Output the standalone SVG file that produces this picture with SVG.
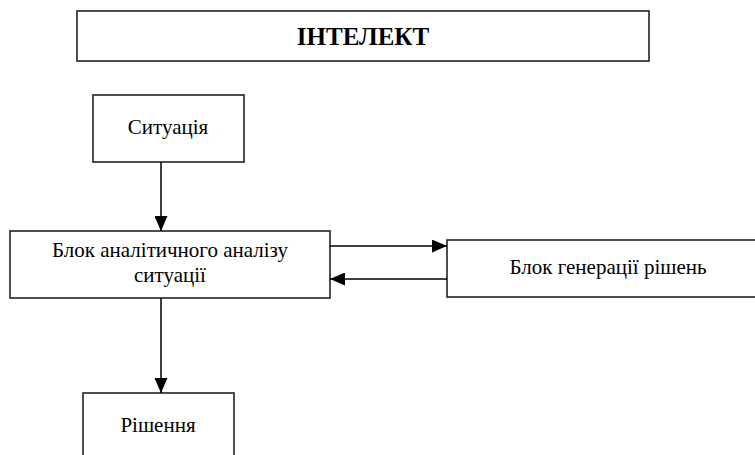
<svg xmlns="http://www.w3.org/2000/svg" width="755" height="455" viewBox="0 0 755 455">
  <style>
    .box { fill: #ffffff; stroke: #222222; stroke-width: 1.6; }
    .txt { font-family: "Liberation Serif", "Times New Roman", serif; font-size: 21px; fill: #000000; text-anchor: middle; }
    .title { font-weight: bold; font-size: 25px; }
    .conn { stroke: #000000; stroke-width: 1.5; fill: none; }
  </style>
  <defs>
    <marker id="arrow" markerWidth="15" markerHeight="13" refX="15" refY="6.5" orient="auto" markerUnits="userSpaceOnUse">
      <path d="M0,0 L15,6.5 L0,13 Z" fill="#000000"/>
    </marker>
  </defs>
  <rect x="0" y="0" width="755" height="455" fill="#ffffff"/>
  <g id="title">
    <rect class="box" x="77" y="11" width="572" height="50"/>
    <text class="txt title" x="363" y="45">ІНТЕЛЕКТ</text>
  </g>
  <g id="situation">
    <rect class="box" x="93" y="95" width="151" height="67"/>
    <text class="txt" x="168" y="134">Ситуація</text>
  </g>
  <g id="analysis">
    <rect class="box" x="10" y="231" width="320" height="67"/>
    <text class="txt" x="170" y="257">Блок аналітичного аналізу</text>
    <text class="txt" x="170" y="282">ситуації</text>
  </g>
  <g id="generation">
    <rect class="box" x="447" y="240" width="320" height="57"/>
    <text class="txt" x="608" y="274">Блок генерації рішень</text>
  </g>
  <g id="decision">
    <rect class="box" x="83" y="393" width="151" height="80"/>
    <text class="txt" x="158" y="432">Рішення</text>
  </g>
  <g id="connectors">
    <line class="conn" x1="161" y1="162" x2="161" y2="231" marker-end="url(#arrow)"/>
    <line class="conn" x1="330" y1="246" x2="447" y2="246" marker-end="url(#arrow)"/>
    <line class="conn" x1="447" y1="279" x2="330" y2="279" marker-end="url(#arrow)"/>
    <line class="conn" x1="161" y1="298" x2="161" y2="393" marker-end="url(#arrow)"/>
  </g>
</svg>
